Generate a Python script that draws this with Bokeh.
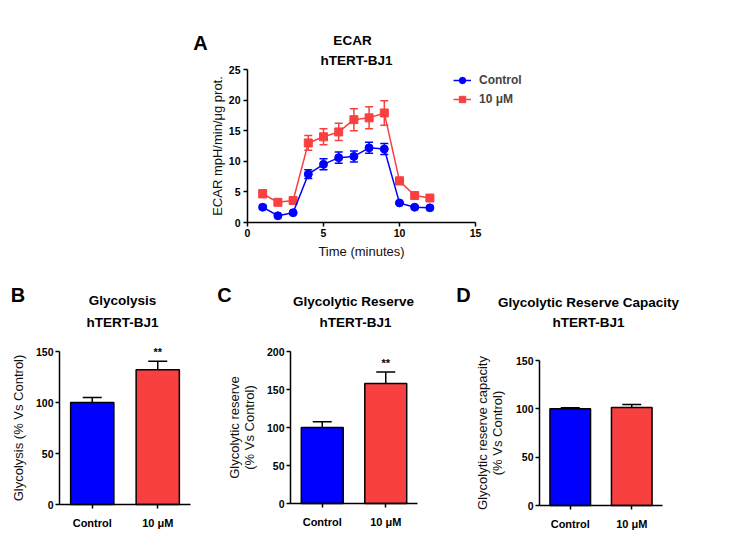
from bokeh.plotting import figure
from bokeh.models import (Range1d, Label, Legend, LegendItem, Whisker,
                          TeeHead, ColumnDataSource, FixedTicker)
from bokeh.layouts import row, column
from bokeh.embed import file_html
from bokeh.resources import INLINE
from bokeh.core.properties import value

# ---------------- data ----------------
time_min = [1, 2, 3, 4, 5, 6, 7, 8, 9, 10, 11, 12]
ecar_control = [2.5, 1.1, 1.6, 7.9, 9.5, 10.6, 10.8, 12.2, 12.0, 3.2, 2.5, 2.4]
ecar_control_err = [0.3, 0.2, 0.2, 0.7, 0.9, 0.9, 0.9, 0.9, 0.9, 0.2, 0.2, 0.2]
ecar_10uM = [4.7, 3.3, 3.6, 13.0, 14.0, 14.8, 16.8, 17.1, 17.9, 6.8, 4.4, 4.0]
ecar_10uM_err = [0.6, 0.4, 0.4, 1.2, 1.3, 1.4, 1.8, 1.8, 2.0, 0.6, 0.3, 0.2]

groups = ["Control", "10 μM"]
glycolysis = [100, 132]
glycolysis_err = [5, 8.5]
reserve = [100, 158]
reserve_err = [7.5, 15]
capacity = [100, 101.5]
capacity_err = [1, 3]
signif_glycolysis = ["", "**"]
signif_reserve = ["", "**"]

xticks_time = [0, 5, 10, 15]
yticks_ecar = [0, 5, 10, 15, 20, 25]
yticks_150 = [0, 50, 100, 150]
yticks_200 = [0, 50, 100, 150, 200]

# ---------------- style / layout ----------------
BLUE = "#0000ff"
RED = "#f84040"
FONT = "Liberation Sans"


def span_range(d0, d1, p0, p1, size):
    """Range whose value d0 falls at canvas pixel p0 and d1 at p1 (0..size)."""
    k = (d1 - d0) / (p1 - p0)
    return Range1d(d0 - p0 * k, d0 + (size - p0) * k)


class Panel:
    def __init__(self, left, top, width, height):
        self.left, self.top, self.width, self.height = left, top, width, height

    def sx(self, page_x):
        return page_x - self.left

    def sy(self, page_y):
        return self.top + self.height - page_y


def make_fig(box, xdom, xpix, ydom, ypix):
    # xpix / ypix: page pixel positions of the axis ends
    xr = span_range(xdom[0], xdom[1], box.sx(xpix[0]), box.sx(xpix[1]), box.width)
    yr = span_range(ydom[0], ydom[1], box.sy(ypix[0]), box.sy(ypix[1]), box.height)
    p = figure(width=box.width, height=box.height, x_range=xr, y_range=yr,
               output_backend="svg", toolbar_location=None, title=None, min_border=0)
    p.outline_line_color = None
    p.grid.visible = False
    p.xaxis.fixed_location = xdom[0] * 0 + ydom[0]
    p.yaxis.fixed_location = xdom[0]
    p.xaxis.bounds = (xdom[0], xdom[1])
    p.yaxis.bounds = (ydom[0], ydom[1])
    for ax in p.axis:
        ax.axis_line_width = 1.5
        ax.axis_line_color = "black"
        ax.major_tick_line_width = 1.5
        ax.major_tick_line_color = "black"
        ax.major_tick_in = 0
        ax.major_tick_out = 4
        ax.minor_tick_line_color = None
        ax.major_label_text_font = FONT
        ax.major_label_text_font_style = "bold"
        ax.major_label_text_font_size = "10.5px"
        ax.major_label_text_color = "black"
        ax.axis_label_text_font = FONT
        ax.axis_label_text_font_style = "normal"
        ax.axis_label_text_font_size = "13px"
        ax.axis_label_text_color = "#111111"
        ax.axis_label_text_line_height = 1.0
        ax.major_label_standoff = 2
    return p


def add_text(p, box, page_x, page_y, text, size):
    p.add_layout(Label(x=box.sx(page_x), y=box.sy(page_y), x_units="screen", y_units="screen",
                       text=text, text_align="center", text_baseline="middle",
                       text_font=FONT, text_font_size=size, text_font_style="bold",
                       text_color="black"))


# ---------------- panel A ----------------
boxA = Panel(0, 0, 717, 259)
pA = make_fig(boxA, (0, 15), (247, 475), (0, 25), (222, 69))
pA.xaxis.ticker = FixedTicker(ticks=xticks_time)
pA.yaxis.ticker = FixedTicker(ticks=yticks_ecar)
pA.xaxis.axis_label = "Time (minutes)"
pA.yaxis.axis_label = "ECAR mpH/min/μg prot."
pA.xaxis.axis_label_standoff = 4
pA.yaxis.axis_label_standoff = 1
pA.yaxis.major_label_standoff = 3

srcC = ColumnDataSource(dict(x=time_min, y=ecar_control,
                             lo=[v - e for v, e in zip(ecar_control, ecar_control_err)],
                             hi=[v + e for v, e in zip(ecar_control, ecar_control_err)]))
srcR = ColumnDataSource(dict(x=time_min, y=ecar_10uM,
                             lo=[v - e for v, e in zip(ecar_10uM, ecar_10uM_err)],
                             hi=[v + e for v, e in zip(ecar_10uM, ecar_10uM_err)]))

lr = pA.line("x", "y", source=srcR, line_color=RED, line_width=1.5)
sr = pA.scatter("x", "y", source=srcR, marker="square", size=8, fill_color=RED, line_color=RED)
pA.add_layout(Whisker(base="x", lower="lo", upper="hi", source=srcR, dimension="height",
                      line_color=RED, line_width=1.5,
                      lower_head=TeeHead(size=8, line_color=RED, line_width=1.5),
                      upper_head=TeeHead(size=8, line_color=RED, line_width=1.5)))
lc = pA.line("x", "y", source=srcC, line_color=BLUE, line_width=1.5)
sc = pA.scatter("x", "y", source=srcC, marker="circle", size=8, fill_color=BLUE, line_color=BLUE)
pA.add_layout(Whisker(base="x", lower="lo", upper="hi", source=srcC, dimension="height",
                      line_color=BLUE, line_width=1.5,
                      lower_head=TeeHead(size=8, line_color=BLUE, line_width=1.5),
                      upper_head=TeeHead(size=8, line_color=BLUE, line_width=1.5)))

legend = Legend(items=[LegendItem(label="Control", renderers=[lc, sc]),
                       LegendItem(label="10 μM", renderers=[lr, sr])],
                location=(boxA.sx(453), boxA.sy(107)), orientation="vertical",
                border_line_color=None, background_fill_alpha=0,
                padding=0, margin=0, spacing=3, glyph_width=18, glyph_height=16,
                label_height=16, label_standoff=8,
                label_text_font=FONT, label_text_font_style="bold",
                label_text_font_size="12px")
pA.add_layout(legend)

add_text(pA, boxA, 200, 42, "A", "20px")
add_text(pA, boxA, 352, 40, "ECAR", "13.5px")
add_text(pA, boxA, 356, 60, "hTERT-BJ1", "13.5px")


# ---------------- bar panels ----------------
BAR_COLORS = [BLUE, RED]
bar_x = [i + 0.5 for i in range(len(groups))]


def bar_panel(box, xpix, ymax, ypix, yticks, vals, errs, ylabel, label_standoff,
              letter, letter_xy, title, title_xy, sub_xy, stars=None):
    p = make_fig(box, (0, len(groups)), xpix, (0, ymax), ypix)
    p.yaxis.ticker = FixedTicker(ticks=yticks)
    p.yaxis.axis_label = ylabel
    p.yaxis.axis_label_standoff = label_standoff
    p.xaxis.ticker = FixedTicker(ticks=bar_x)
    p.xaxis.major_label_overrides = {x: g for x, g in zip(bar_x, groups)}
    p.xaxis.major_label_text_font_size = "11px"
    p.xaxis.major_label_standoff = 8
    src = ColumnDataSource(dict(x=bar_x, top=vals, color=BAR_COLORS,
                                hi=[v + e for v, e in zip(vals, errs)]))
    p.add_layout(Whisker(base="x", lower="top", upper="hi", source=src, dimension="height",
                         line_color="black", line_width=1.5, lower_head=None,
                         upper_head=TeeHead(size=19, line_color="black", line_width=1.5),
                         level="underlay"))
    p.vbar(x="x", top="top", width=0.66, source=src, fill_color="color",
           line_color="black", line_width=1.5)
    if stars is not None:
        p.text(x=bar_x, y=[v + e for v, e in zip(vals, errs)], text=stars,
               text_align="center", text_baseline="bottom", y_offset=-3,
               text_font=value(FONT), text_font_style="bold", text_font_size="11px",
               text_color="black")
    add_text(p, box, letter_xy[0], letter_xy[1], letter, "20px")
    add_text(p, box, title_xy[0], title_xy[1], title, "13.5px")
    add_text(p, box, sub_xy[0], sub_xy[1], "hTERT-BJ1", "13.5px")
    return p


boxB = Panel(0, 259, 212, 275)
boxC = Panel(212, 259, 240, 275)
boxD = Panel(452, 259, 265, 275)

pB = bar_panel(boxB, (59, 190), 150, (504, 351), yticks_150, glycolysis, glycolysis_err,
               "Glycolysis (% Vs Control)", 7, "B", (17.5, 294),
               "Glycolysis", (122, 300), (122, 322), stars=signif_glycolysis)
pC = bar_panel(boxC, (290, 417), 200, (503, 351), yticks_200, reserve, reserve_err,
               "Glycolytic reserve\n(% Vs Control)", 7, "C", (224, 294),
               "Glycolytic Reserve", (353, 301), (355, 322), stars=signif_reserve)
pD = bar_panel(boxD, (539, 662), 150, (505, 360), yticks_150, capacity, capacity_err,
               "Glycolytic reserve capacity\n(% Vs Control)", 8, "D", (463, 294),
               "Glycolytic Reserve Capacity", (588, 302), (588, 322))

layout = column(pA, row(pB, pC, pD))

open("out.html", "w").write(file_html(layout, INLINE))
